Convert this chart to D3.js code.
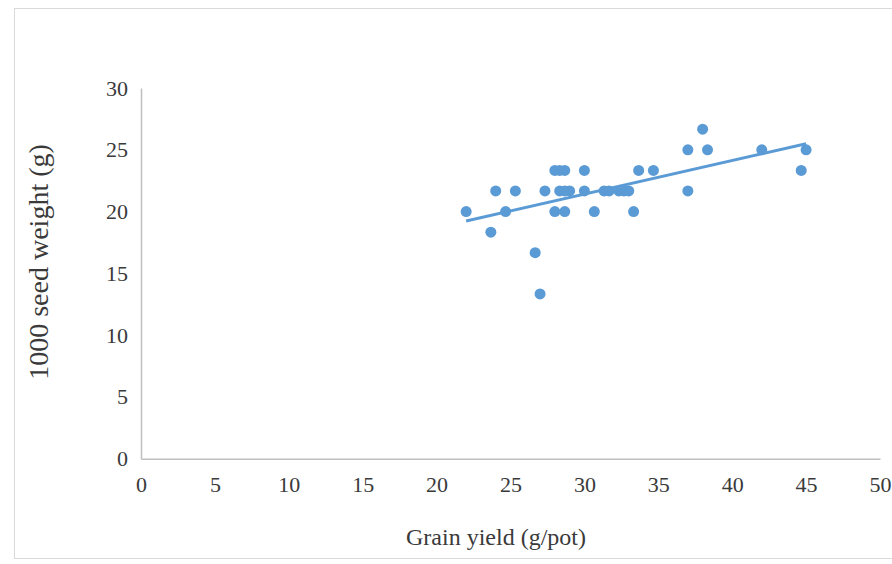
<!DOCTYPE html>
<html>
<head>
<meta charset="utf-8">
<script src="https://cdn.jsdelivr.net/npm/d3@7"></script>
<style>
  body { margin: 0; background: #fff; }
  text { font-family: "Liberation Serif", "Times New Roman", serif; fill: #3a3a3a; }
</style>
</head>
<body>
<div id="chart"></div>
<script>
// Grain yield (g/pot) vs 1000 seed weight (g), one entry per pot
const grainYield = [22.0, 23.67, 24.0, 24.67, 25.33, 26.67, 27.0, 27.33, 28.0, 28.33, 28.67, 28.0,
  28.67, 28.33, 28.67, 29.0, 30.0, 30.0, 30.67, 31.33, 31.67, 32.33, 32.67, 33.0, 33.33, 33.67,
  34.67, 37.0, 37.0, 38.0, 38.33, 42.0, 44.67, 45.0];
const seedWeight = [20.0, 18.33, 21.67, 20.0, 21.67, 16.67, 13.33, 21.67, 23.33, 23.33, 23.33, 20.0,
  20.0, 21.67, 21.67, 21.67, 23.33, 21.67, 20.0, 21.67, 21.67, 21.67, 21.67, 21.67, 20.0, 23.33,
  23.33, 25.0, 21.67, 26.67, 25.0, 25.0, 23.33, 25.0];
const xTicks = [0, 5, 10, 15, 20, 25, 30, 35, 40, 45, 50];
const yTicks = [0, 5, 10, 15, 20, 25, 30];

const width = 892, height = 564;
const color = "#5b9bd5";

const svg = d3.select("#chart").append("svg")
  .attr("width", width)
  .attr("height", height);

// outer chart border
svg.append("rect")
  .attr("x", 14.5).attr("y", 8.5)
  .attr("width", width).attr("height", 550)
  .attr("fill", "none")
  .attr("stroke", "#d9d9d9");

const x = d3.scaleLinear().domain([0, 50]).range([141, 880]);
const y = d3.scaleLinear().domain([0, 30]).range([458.7, 88]);

// axes (Excel style: no tick marks, grey lines)
const xAxis = svg.append("g")
  .attr("transform", `translate(0, ${y(0)})`)
  .call(d3.axisBottom(x).tickValues(xTicks).tickSize(0).tickPadding(18));
const yAxis = svg.append("g")
  .attr("transform", `translate(${x(0)}, 0)`)
  .call(d3.axisLeft(y).tickValues(yTicks).tickSize(0).tickPadding(13));

[xAxis, yAxis].forEach(g => {
  g.select(".domain").attr("stroke", "#bfbfbf").attr("stroke-width", 1.5);
  g.selectAll("text")
    .attr("font-family", "Liberation Serif")
    .attr("font-size", 22)
    .attr("fill", "#3a3a3a");
});

// points
const pts = grainYield.map((g, i) => ({ gx: g, sw: seedWeight[i] }));

svg.append("g").selectAll("circle")
  .data(pts)
  .join("circle")
  .attr("cx", d => x(d.gx))
  .attr("cy", d => y(d.sw))
  .attr("r", 5.5)
  .attr("fill", color);

// linear trendline (least squares), drawn from min to max x
const mx = d3.mean(pts, d => d.gx), my = d3.mean(pts, d => d.sw);
const slope = d3.sum(pts, d => (d.gx - mx) * (d.sw - my)) / d3.sum(pts, d => (d.gx - mx) ** 2);
const icpt = my - slope * mx;
const ext = d3.extent(pts, d => d.gx);
const trend = ext.map(v => ({ gx: v, sw: icpt + slope * v }));

svg.append("path")
  .datum(trend)
  .attr("d", d3.line().x(d => x(d.gx)).y(d => y(d.sw)))
  .attr("fill", "none")
  .attr("stroke", color)
  .attr("stroke-width", 3);

// axis titles
svg.append("text")
  .attr("x", 496).attr("y", 545)
  .attr("text-anchor", "middle")
  .attr("font-size", 24)
  .text("Grain yield (g/pot)");

svg.append("text")
  .attr("transform", "translate(48, 262) rotate(-90)")
  .attr("text-anchor", "middle")
  .attr("font-size", 28)
  .text("1000 seed weight (g)");
</script>
</body>
</html>
